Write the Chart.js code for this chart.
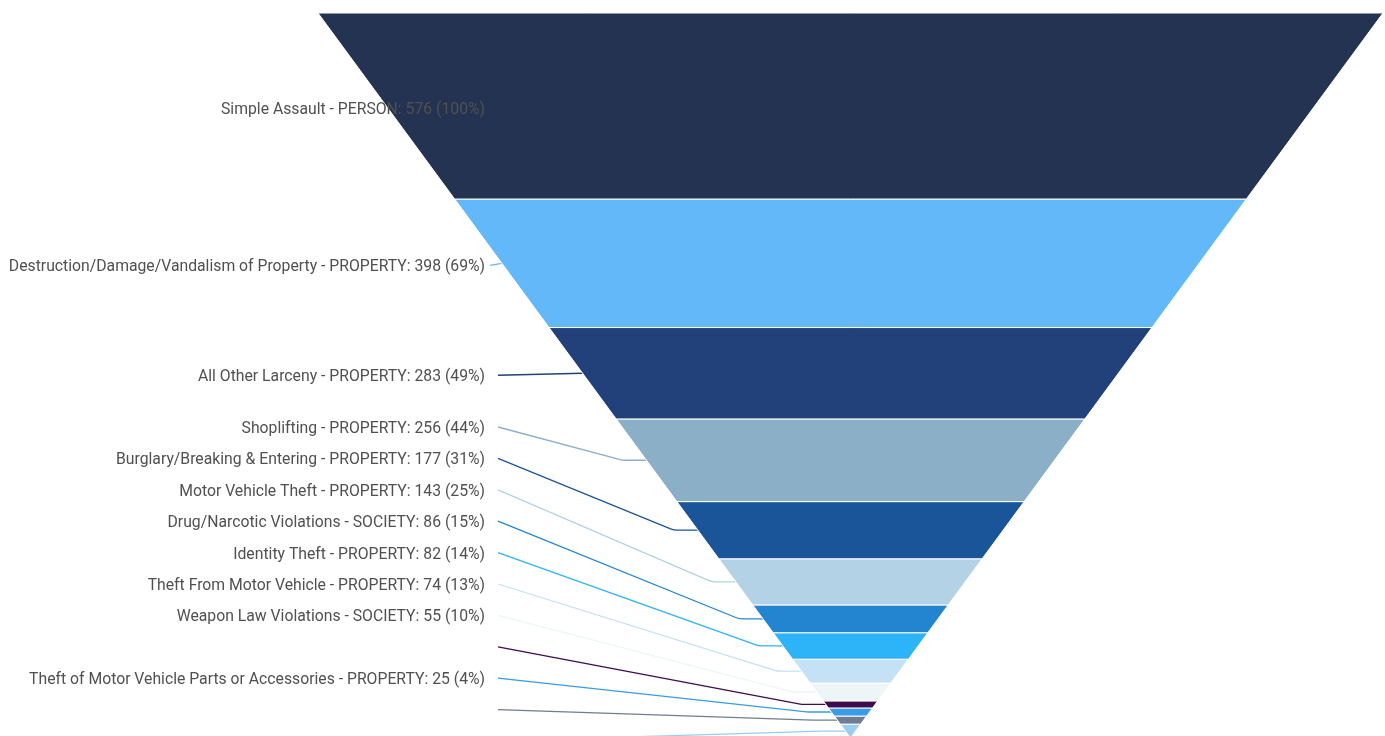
<!DOCTYPE html>
<html>
<head>
<meta charset="utf-8">
<script src="https://cdn.jsdelivr.net/npm/chart.js@4.4.1/dist/chart.umd.min.js"></script>
<style>
  html, body { margin: 0; padding: 0; background: #ffffff; }
  #wrap { width: 1385px; height: 736px; position: relative; }
</style>
</head>
<body>
<div id="wrap"><canvas id="c"></canvas></div>
<script>
// ---- data ----
const categories = [
  'Simple Assault - PERSON',
  'Destruction/Damage/Vandalism of Property - PROPERTY',
  'All Other Larceny - PROPERTY',
  'Shoplifting - PROPERTY',
  'Burglary/Breaking & Entering - PROPERTY',
  'Motor Vehicle Theft - PROPERTY',
  'Drug/Narcotic Violations - SOCIETY',
  'Identity Theft - PROPERTY',
  'Theft From Motor Vehicle - PROPERTY',
  'Weapon Law Violations - SOCIETY',
  '',   // label not shown in reference
  'Theft of Motor Vehicle Parts or Accessories - PROPERTY',
  '',   // label not shown in reference
  ''    // label not shown in reference (cut off)
];
const values = [576, 398, 283, 256, 177, 143, 86, 82, 74, 55, 22, 25, 25, 43];
const colors = [
  '#243352', '#62B8F8', '#22407A', '#8BAFC7', '#1A5499', '#B3D2E6', '#2385D0',
  '#2DB3F8', '#C5E1F5', '#EDF5F7', '#3D0D4F', '#3A9BE8', '#6E7D94', '#9CCDF0'
];

// ---- layout constants ----
const W = 1385, H = 736;
const CENTER_X = 850.5;     // funnel axis (x-scale units = px)
const TOP_HALF = 532.5;     // half width of funnel top
const TOP_PX = 13, APEX_PX = 738;
const LABEL_RIGHT = 485, LINE_START = 498;
const LABEL_BOTTOM = 743, LABEL_GAP = 31.4;

const TOTAL = values.reduce((a, b) => a + b, 0);
const k = (APEX_PX - TOP_PX) / TOTAL;           // px per unit
const yMin = -TOP_PX / k, yMax = (H - TOP_PX) / k;

const cum = [];
values.reduce((acc, v, i) => { cum[i] = acc; return acc + v; }, 0);
const halfAt = c => TOP_HALF * (1 - c / TOTAL);

const datasets = values.map((v, i) => {
  const c0 = cum[i], c1 = cum[i] + v;
  const pts = [
    { x: CENTER_X - halfAt(c0), y: c0 },
    { x: CENTER_X + halfAt(c0), y: c0 },
    { x: CENTER_X + halfAt(c1), y: c1 },
    { x: CENTER_X - halfAt(c1), y: c1 },
    { x: CENTER_X - halfAt(c0), y: c0 }
  ];
  return {
    label: categories[i],
    data: pts,
    backgroundColor: colors[i],
    borderColor: '#ffffff',
    borderWidth: 1,
    fill: 'shape',
    pointRadius: 0,
    tension: 0
  };
});

const labelPlugin = {
  id: 'funnelLabels',
  _layout(chart) {
    const ys = chart.scales.y, xs = chart.scales.x;
    const n = values.length;
    const items = values.map((v, i) => {
      const cMid = cum[i] + v / 2;
      return {
        endX: xs.getPixelForValue(CENTER_X - halfAt(cMid)),
        endY: ys.getPixelForValue(cMid),
        desired: ys.getPixelForValue(cMid) + 4
      };
    });
    items[n - 1].ly = LABEL_BOTTOM;
    for (let i = n - 2; i >= 0; i--) {
      items[i].ly = Math.min(items[i].desired, items[i + 1].ly - LABEL_GAP);
    }
    return items;
  },
  beforeDatasetsDraw(chart) {
    const ctx = chart.ctx;
    const items = this._layout(chart);
    ctx.save();
    ctx.lineWidth = 1.3;
    items.forEach((it, i) => {
      const x0 = LINE_START, y0 = it.ly - 2;
      const x1 = it.endX, y1 = it.endY;
      if (x1 <= x0) return;
      ctx.strokeStyle = colors[i];
      ctx.beginPath();
      ctx.moveTo(i === 1 ? LABEL_RIGHT + 5 : x0, y0);
      if (x1 - x0 > 50 && Math.abs(y1 - y0) > 3) {
        ctx.arcTo(x1 - 24, y1, x1, y1, 18);
        ctx.lineTo(x1, y1);
      } else {
        ctx.lineTo(x1, y1);
      }
      ctx.stroke();
    });
    ctx.restore();
  },
  afterDatasetsDraw(chart) {
    const ctx = chart.ctx;
    const items = this._layout(chart);
    ctx.save();
    ctx.font = '15.75px Roboto';
    ctx.textAlign = 'right';
    ctx.textBaseline = 'middle';
    ctx.fillStyle = '#505050';
    items.forEach((it, i) => {
      if (!categories[i]) return;
      const pct = Math.round(values[i] / values[0] * 100);
      ctx.fillText(`${categories[i]}: ${values[i]} (${pct}%)`, LABEL_RIGHT, it.ly);
    });
    ctx.restore();
  }
};

new Chart(document.getElementById('c'), {
  type: 'line',
  data: { datasets },
  options: {
    responsive: true,
    maintainAspectRatio: false,
    animation: false,
    layout: { padding: 0 },
    plugins: { legend: { display: false }, tooltip: { enabled: false } },
    scales: {
      x: { type: 'linear', display: false, min: 0, max: W },
      y: { type: 'linear', display: false, reverse: true, min: yMin, max: yMax }
    }
  },
  plugins: [labelPlugin]
});
</script>
</body>
</html>
